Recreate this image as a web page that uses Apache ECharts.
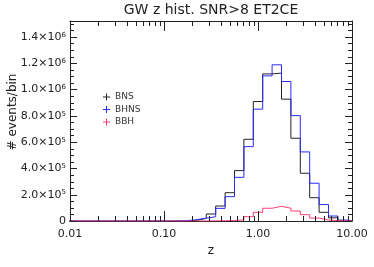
<!DOCTYPE html>
<html><head><meta charset="utf-8">
<script src="https://cdn.jsdelivr.net/npm/echarts@6/dist/echarts.min.js"></script>
<style>html,body{margin:0;padding:0;background:#fff}#c{width:374px;height:267px}</style>
</head><body><div id="c"></div>
<script>
// bin centres in log10(z)
const binCentersLog = [-2.0,-1.9,-1.8,-1.7,-1.6,-1.5,-1.4,-1.3,-1.2,-1.1,-1.0,-0.9,-0.8,-0.7,-0.6,-0.5,-0.4,-0.3,-0.2,-0.1,0.0,0.1,0.2,0.3,0.4,0.5,0.6,0.7,0.8,0.9,1.0];
const binHalfWidthLog = 0.05;
const bnsCounts  = [0,0,0,0,0,0,0,0,0,0,0,0,1000,5000,20000,53000,114000,215000,383000,621000,908000,1118000,1124000,926000,629000,363000,177000,66000,24000,3000,0];
const bhnsCounts = [0,0,0,0,0,0,0,0,0,0,0,1000,3000,10000,22000,32000,96000,185000,332000,565000,850000,1103000,1187000,1060000,801000,525000,287000,125000,38000,7000,0];
const bbhCounts  = [0,0,0,0,0,0,0,0,0,0,0,0,0,0,0,1000,2000,4000,9000,33000,66000,97000,112000,97000,76000,48000,22000,8000,3000,1000,0];
const seriesNames = ['BNS','BHNS','BBH'];
const seriesColors = ['#222222','#2a2aff','#ff3f72'];
const xMajorTicks = [0.01,0.1,1,10];
const xMinorTicks = [0.02,0.03,0.04,0.05,0.06,0.07,0.08,0.09,0.2,0.3,0.4,0.5,0.6,0.7,0.8,0.9,2,3,4,5,6,7,8,9];
const yMajorTicks = [0,2e5,4e5,6e5,8e5,1e6,1.2e6,1.4e6];
const yMinorTicks = [5e4,1e5,1.5e5,2.5e5,3e5,3.5e5,4.5e5,5e5,5.5e5,6.5e5,7e5,7.5e5,8.5e5,9e5,9.5e5,1.05e6,1.1e6,1.15e6,1.25e6,1.3e6,1.35e6,1.45e6,1.5e6];
const yTitle = '# events/bin';

const FONT = 'DejaVu Sans';
const INK = '#222222';

function stepData(counts){
  const pts = counts.map((v,i)=>[Math.pow(10, binCentersLog[i]-binHalfWidthLog), v]);
  const last = counts.length-1;
  pts.push([Math.pow(10, binCentersLog[last]+binHalfWidthLog), counts[last]]);
  return pts;
}
function yFmt(v){
  if (v === 0) return '0';
  const e = Math.floor(Math.log10(v)+1e-9);
  const m = v/Math.pow(10,e);
  return m.toFixed(1)+'×10{sup|'+e+'}';
}
function ls(){ return {color: INK, width: 1}; }
const chart = echarts.init(document.getElementById('c'));
const yMax = 1.52e6;
const countsList = [bnsCounts, bhnsCounts, bbhCounts];
chart.setOption({
  animation:false,
  title:{text:'GW z hist. SNR>8 ET2CE', left:211, textAlign:'center', top:3, padding:0,
    textStyle:{fontFamily:FONT, fontSize:14, fontWeight:'normal', color:INK}},
  legend:{data:seriesNames.map((n,i)=>({name:n, itemStyle:{color:seriesColors[i]}})),
    orient:'vertical', left:103, top:92, padding:0, itemWidth:7, itemHeight:7, itemGap:2.5,
    icon:'path://M3,0H4V3H7V4H4V7H3V4H0V3H3Z',
    textStyle:{fontFamily:FONT, fontSize:9, color:'#333', lineHeight:10}},
  grid:{left:70, right:22, top:21, bottom:46, outerBoundsMode:'none', containLabel:false},
  xAxis:[
    {type:'log', min:0.01, max:10, position:'bottom',
     name:'z', nameLocation:'middle', nameGap:21, nameTextStyle:{fontFamily:FONT, fontSize:12, color:INK},
     axisLine:{show:true, onZero:false, lineStyle:ls()},
     axisTick:{show:false}, splitLine:{show:false},
     axisLabel:{margin:8, fontFamily:FONT, fontSize:11, color:INK, formatter:v=>Number(v).toFixed(2)}},
    {type:'log', min:0.01, max:10, position:'top',
     axisLine:{show:true, onZero:false, lineStyle:ls()},
     axisTick:{show:false}, splitLine:{show:false}, axisLabel:{show:false}}
  ],
  yAxis:[
    {type:'value', min:0, max:yMax, interval:2e5, position:'left',
     axisLine:{onZero:false, show:true, lineStyle:ls()},
     axisTick:{show:false}, minorTick:{show:false}, splitLine:{show:false},
     axisLabel:{margin:4, showMaxLabel:false, fontFamily:FONT, fontSize:11, color:INK, formatter:yFmt,
       rich:{sup:{fontFamily:FONT, fontSize:7, color:INK, verticalAlign:'top'}}}},
    {type:'value', min:0, max:yMax, interval:2e5, position:'right',
     axisLine:{onZero:false, show:true, lineStyle:ls()},
     axisTick:{show:false}, minorTick:{show:false}, splitLine:{show:false}, axisLabel:{show:false}}
  ],
  series: seriesNames.map((n,i)=>({type:'line', name:n, step:'end', symbol:'none', color:seriesColors[i],
    itemStyle:{color:seriesColors[i]}, lineStyle:{width:1, color:seriesColors[i]}, data:stepData(countsList[i])}))
});

// frame ticks (inward, on all four sides) placed through the axes' own scales
const px = v => Math.round(chart.convertToPixel({xAxisIndex:0}, v)) + 0.5;
const py = v => Math.round(chart.convertToPixel({yAxisIndex:0}, v)) + 0.5;
const xL = Math.round(chart.convertToPixel({xAxisIndex:0}, 0.01));
const xR = Math.round(chart.convertToPixel({xAxisIndex:0}, 10));
const yB = Math.round(chart.convertToPixel({yAxisIndex:0}, 0));
const yT = Math.round(chart.convertToPixel({yAxisIndex:0}, yMax));
const els = [];
function seg(x1,y1,x2,y2){ els.push({type:'line', z:100, silent:true, shape:{x1,y1,x2,y2}, style:{stroke:INK, lineWidth:1}}); }
xMajorTicks.forEach(v=>{ const x=px(v); seg(x,yB,x,yB-10); seg(x,yT,x,yT+10); });
xMinorTicks.forEach(v=>{ const x=px(v); seg(x,yB,x,yB-5); seg(x,yT,x,yT+5); });
yMajorTicks.forEach(v=>{ const y=py(v); seg(xL,y,xL+7,y); seg(xR,y,xR-7,y); });
yMinorTicks.forEach(v=>{ const y=py(v); seg(xL,y,xL+4,y); seg(xR,y,xR-4,y); });
// rotated y-axis title
els.push({type:'text', z:100, silent:true, x:13, y:112, rotation:Math.PI/2,
  style:{text:yTitle, fontFamily:FONT, fontSize:12, fill:INK, textAlign:'center', textVerticalAlign:'middle'}});
chart.setOption({graphic:{elements:els}});
</script></body></html>
